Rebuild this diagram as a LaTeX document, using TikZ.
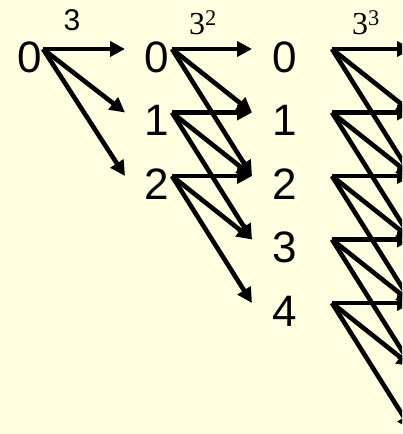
\documentclass[tikz,border=0pt]{standalone}
\usepackage{fontspec}
\setmainfont{Liberation Sans}
\newfontfamily\powserif{Liberation Serif}
\usetikzlibrary{arrows.meta}
\definecolor{slidebg}{RGB}{255,255,225}

\tikzset{
  digit/.style={font=\fontsize{44}{44}\selectfont, inner sep=0pt},
  power/.style={font=\fontsize{30}{30}\selectfont, inner sep=0pt},
  serifpower/.style={font=\powserif\fontsize{32}{32}\selectfont, inner sep=0pt},
  hop/.style={line width=4.6pt, -{Triangle[length=15pt,width=15pt]}}
}

\begin{document}
\begin{tikzpicture}[x=1pt,y=-1pt]
        \useasboundingbox (0,0) rectangle (402,434);
        \fill[slidebg] (0,0) rectangle (402,434);
        \clip (0,0) rectangle (402,434);
        % Residues in each column
        \node[digit] (a0) at (30,57) {0};
        \foreach \i in {0,1,2}
          \node[digit] (b\i) at (157,57+63.5*\i) {\i};
        \foreach \i in {0,...,4}
          \node[digit] (c\i) at (285,57+63.5*\i) {\i};
        % Moduli above the arrows
        \node[power] (p1) at (72,20) {3};
        \node[serifpower] (p2) at (203,23) {3\textsuperscript{2}};
        \node[serifpower] (p3) at (366,23) {3\textsuperscript{3}};
        % Arrow tails and heads
        \coordinate (sa0) at (43,49);
        \foreach \j in {0,1,2} {
          \coordinate (tb\j) at (125,49+63.5*\j);
          \coordinate (sb\j) at (172,49+63.5*\j);
        }
        \foreach \j in {0,...,4} {
          \coordinate (tc\j) at (252,49+63.5*\j);
          \coordinate (sc\j) at (332,49+63.5*\j);
        }
        \foreach \j in {0,...,6}
          \coordinate (td\j) at (412,49+63.5*\j);
        % Arrows
        \foreach \k in {0,1,2}
          \draw[hop] (sa0) -- (tb\k);
        \foreach \i in {0,1,2}
          \foreach \k in {0,1,2} {
            \pgfmathtruncatemacro\j{\i+\k}
            \draw[hop] (sb\i) -- (tc\j);
          }
        \foreach \i in {0,...,4}
          \foreach \k in {0,1,2} {
            \pgfmathtruncatemacro\j{\i+\k}
            \draw[hop] (sc\i) -- (td\j);
          }
      \end{tikzpicture}
\end{document}
